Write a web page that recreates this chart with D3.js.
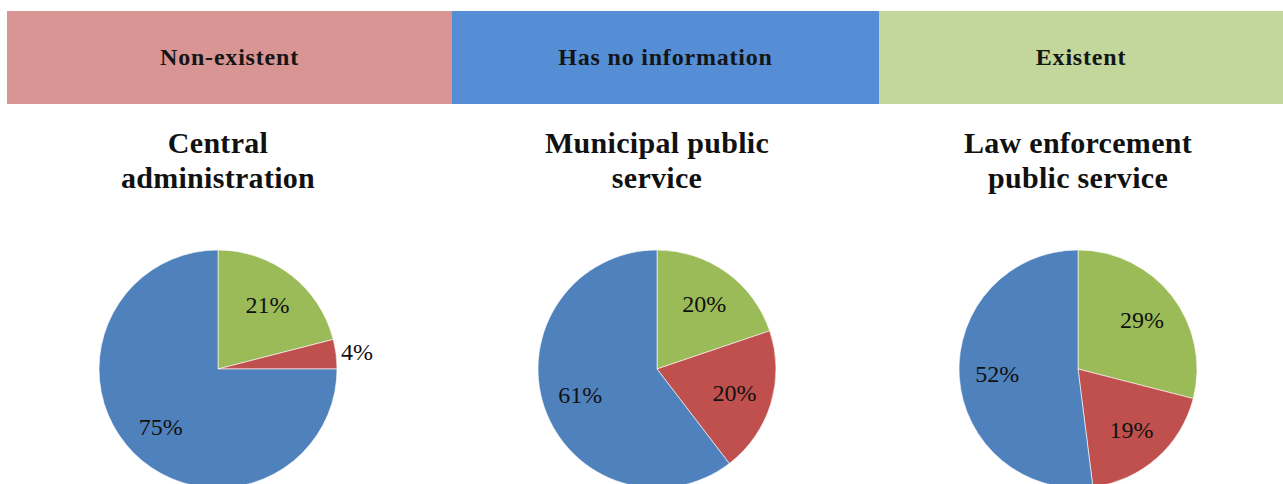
<!DOCTYPE html>
<html>
<head>
<meta charset="utf-8">
<script src="https://cdn.jsdelivr.net/npm/d3@7"></script>
<style>
  html, body { margin: 0; padding: 0; background: #fff; }
  svg { display: block; font-family: "Liberation Serif", "Times New Roman", serif; }
</style>
</head>
<body>
<div id="chart"></div>
<script>
// legend categories (top strip)
const categories = ["Non-existent", "Has no information", "Existent"];
// pie panels
const panelTitles = [
    ["Central", "administration"],
    ["Municipal public", "service"],
    ["Law enforcement", "public service"]
];
// series values, one per panel (percent)
const existent    = [21, 20, 29];
const nonExistent = [4, 20, 19];
const noInfo      = [75, 61, 52];

// STYLE / LAYOUT
const W = 1283, H = 484;
const legendFill = { "Non-existent": "#d99594", "Has no information": "#558ed5", "Existent": "#c3d69b" };
const sliceFill  = { "Existent": "#9bbb59", "Non-existent": "#c0504d", "Has no information": "#4f81bd" };
const legendEdges = [7, 452, 879, 1283];
const pieCx = [218, 657, 1078];
const pieCy = 369, radius = 119;

const svg = d3.select("#chart").append("svg")
    .attr("width", W)
    .attr("height", H);

// legend strip
const legend = svg.append("g");
categories.forEach(function (c, i) {
    const x0 = legendEdges[i], x1 = legendEdges[i + 1];
    legend.append("rect")
        .attr("x", x0).attr("y", 11)
        .attr("width", x1 - x0).attr("height", 93)
        .attr("fill", legendFill[c]);
    legend.append("text")
        .attr("x", (x0 + x1) / 2)
        .attr("y", 65)
        .attr("text-anchor", "middle")
        .attr("font-weight", "bold")
        .attr("font-size", 24)
        .attr("letter-spacing", 0.8)
        .attr("fill", "#151515")
        .text(c);
});

const pie = d3.pie().sort(null).value(function (d) { return d.value; });
const arc = d3.arc().innerRadius(0).outerRadius(radius);
const labelArc = d3.arc().innerRadius(radius * 0.68).outerRadius(radius * 0.68);

panelTitles.forEach(function (title, i) {
    const g = svg.append("g");

    // title
    title.forEach(function (line, j) {
        g.append("text")
            .attr("x", pieCx[i])
            .attr("y", 153 + j * 35)
            .attr("text-anchor", "middle")
            .attr("font-weight", "bold")
            .attr("font-size", 30)
            .attr("letter-spacing", 0.3)
            .attr("fill", "#111")
            .text(line);
    });

    const rows = [
        { key: "Existent", value: existent[i] },
        { key: "Non-existent", value: nonExistent[i] },
        { key: "Has no information", value: noInfo[i] }
    ];
    const arcs = pie(rows);

    const pg = g.append("g").attr("transform", "translate(" + pieCx[i] + "," + pieCy + ")");
    pg.selectAll("path")
        .data(arcs)
        .enter()
        .append("path")
        .attr("d", arc)
        .attr("fill", function (d) { return sliceFill[d.data.key]; })
        .attr("stroke", "#ffffff")
        .attr("stroke-width", 0.6);

    pg.selectAll("text.lbl")
        .data(arcs)
        .enter()
        .append("text")
        .attr("class", "lbl")
        .attr("font-size", 24)
        .attr("fill", "#111")
        .attr("dy", "0.35em")
        .each(function (d) {
            const t = d3.select(this);
            if (d.data.value < 8) {
                // small slice: label outside, to the right of the edge
                const a = (d.startAngle + d.endAngle) / 2;
                t.attr("x", Math.sin(a) * radius + 5)
                 .attr("y", -Math.cos(a) * radius - 3)
                 .attr("text-anchor", "start");
            } else {
                const c = labelArc.centroid(d);
                t.attr("x", c[0]).attr("y", c[1]).attr("text-anchor", "middle");
            }
        })
        .text(function (d) { return d.data.value + "%"; });
});
</script>
</body>
</html>
